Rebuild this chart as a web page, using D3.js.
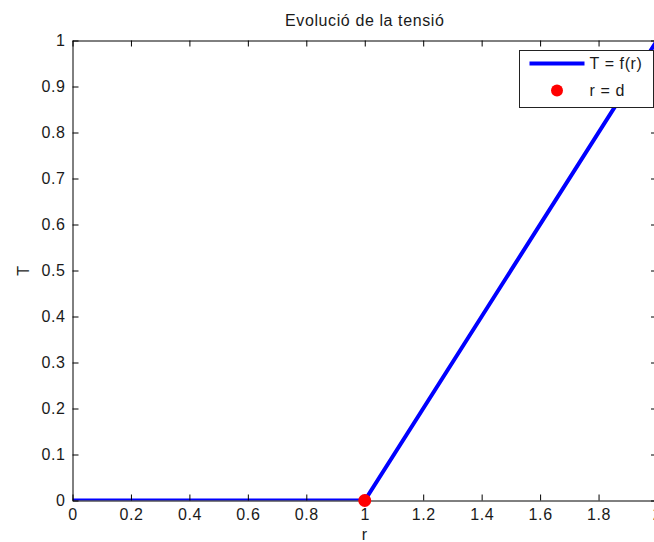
<!DOCTYPE html>
<html>
<head>
<meta charset="utf-8">
<script src="https://cdn.jsdelivr.net/npm/d3@7"></script>
<style>
  body { margin: 0; background: #fff; }
  svg { display: block; font-family: "Liberation Sans", Arial, sans-serif; letter-spacing: 0.6px; }
</style>
</head>
<body>
<div class="chart-container"></div>
<script>
// data
const rValues = [0, 1, 2];
const tValues = [0, 0, 1];
const markR = [1];
const markT = [0];
const xTicks = [0, 0.2, 0.4, 0.6, 0.8, 1, 1.2, 1.4, 1.6, 1.8, 2];
const yTicks = [0, 0.1, 0.2, 0.3, 0.4, 0.5, 0.6, 0.7, 0.8, 0.9, 1];
const titleText = 'Evolució de la tensió';
const xLabel = 'r';
const yLabel = 'T';
const legendLabels = ['T = f(r)', 'r = d'];

// Dimensions and margins
const margin = { top: 40.5, right: -3, bottom: 41.5, left: 72.5 },
    width = 654 - margin.left - margin.right,
    height = 542 - margin.top - margin.bottom;

const svg = d3.select('.chart-container')
    .append('svg')
    .attr('width', 654)
    .attr('height', 542)
    .append('g')
    .attr('transform', `translate(${margin.left},${margin.top})`);

const x = d3.scaleLinear().domain([0, 2]).range([0, width]);
const y = d3.scaleLinear().domain([0, 1]).range([height, 0]);

svg.append('clipPath').attr('id', 'clip')
    .append('rect').attr('width', width).attr('height', height);

// the line (clipped to the axes box)
const data = rValues.map((r, i) => ({ r, t: tValues[i] }));
svg.append('path')
    .datum(data)
    .attr('clip-path', 'url(#clip)')
    .attr('fill', 'none')
    .attr('stroke', '#0000ff')
    .attr('stroke-width', 4)
    .attr('d', d3.line().x(d => x(d.r)).y(d => y(d.t)));

// axes, ticks pointing inside, on all four sides
const fontSize = 16;
const styleAxis = g => {
    g.select('.domain').attr('stroke', '#000');
    g.selectAll('.tick line').attr('stroke', '#000');
    g.selectAll('.tick text').attr('fill', '#1a1a1a').attr('font-size', fontSize);
    g.attr('font-family', null);
};

svg.append('g')
    .attr('transform', `translate(0,${height})`)
    .call(d3.axisBottom(x).tickValues(xTicks).tickFormat(d3.format('')).tickSizeInner(-6).tickSizeOuter(0).tickPadding(8))
    .call(styleAxis);
svg.append('g')
    .call(d3.axisTop(x).tickValues(xTicks).tickFormat('').tickSizeInner(-6).tickSizeOuter(0))
    .call(styleAxis);
svg.append('g')
    .call(d3.axisLeft(y).tickValues(yTicks).tickFormat(d3.format('')).tickSizeInner(-6).tickSizeOuter(0).tickPadding(7))
    .call(styleAxis);
svg.append('g')
    .attr('transform', `translate(${width},0)`)
    .call(d3.axisRight(y).tickValues(yTicks).tickFormat('').tickSizeInner(-6).tickSizeOuter(0))
    .call(styleAxis);

// marker r = d (not clipped)
svg.append('g')
    .selectAll('circle')
    .data(markR)
    .enter()
    .append('circle')
    .attr('cx', d => x(d))
    .attr('cy', (d, i) => y(markT[i]))
    .attr('r', 6.5)
    .attr('fill', '#ff0000');

// title and axis labels
svg.append('text')
    .attr('x', x(1))
    .attr('y', -15)
    .attr('text-anchor', 'middle')
    .attr('font-size', fontSize)
    .attr('fill', '#1a1a1a')
    .text(titleText);

svg.append('text')
    .attr('x', x(1))
    .attr('y', height + 39)
    .attr('text-anchor', 'middle')
    .attr('font-size', fontSize)
    .attr('fill', '#1a1a1a')
    .text(xLabel);

svg.append('text')
    .attr('transform', `translate(${-44},${height / 2}) rotate(-90)`)
    .attr('text-anchor', 'middle')
    .attr('font-size', fontSize)
    .attr('fill', '#1a1a1a')
    .text(yLabel);

// legend
const legend = svg.append('g')
    .attr('transform', `translate(${519.5 - margin.left},${50.5 - margin.top})`);
legend.append('rect')
    .attr('width', 134)
    .attr('height', 57)
    .attr('fill', '#fff')
    .attr('stroke', '#222');
legend.append('line')
    .attr('x1', 10).attr('x2', 65)
    .attr('y1', 13).attr('y2', 13)
    .attr('stroke', '#0000ff')
    .attr('stroke-width', 4);
legend.append('circle')
    .attr('cx', 37.5).attr('cy', 40)
    .attr('r', 6)
    .attr('fill', '#ff0000');
legend.selectAll('text.lbl')
    .data(legendLabels)
    .enter()
    .append('text')
    .attr('class', 'lbl')
    .attr('x', 70)
    .attr('y', (d, i) => 13 + i * 27)
    .attr('dy', '0.35em')
    .attr('font-size', fontSize)
    .attr('fill', '#1a1a1a')
    .text(d => d);
</script>
</body>
</html>
